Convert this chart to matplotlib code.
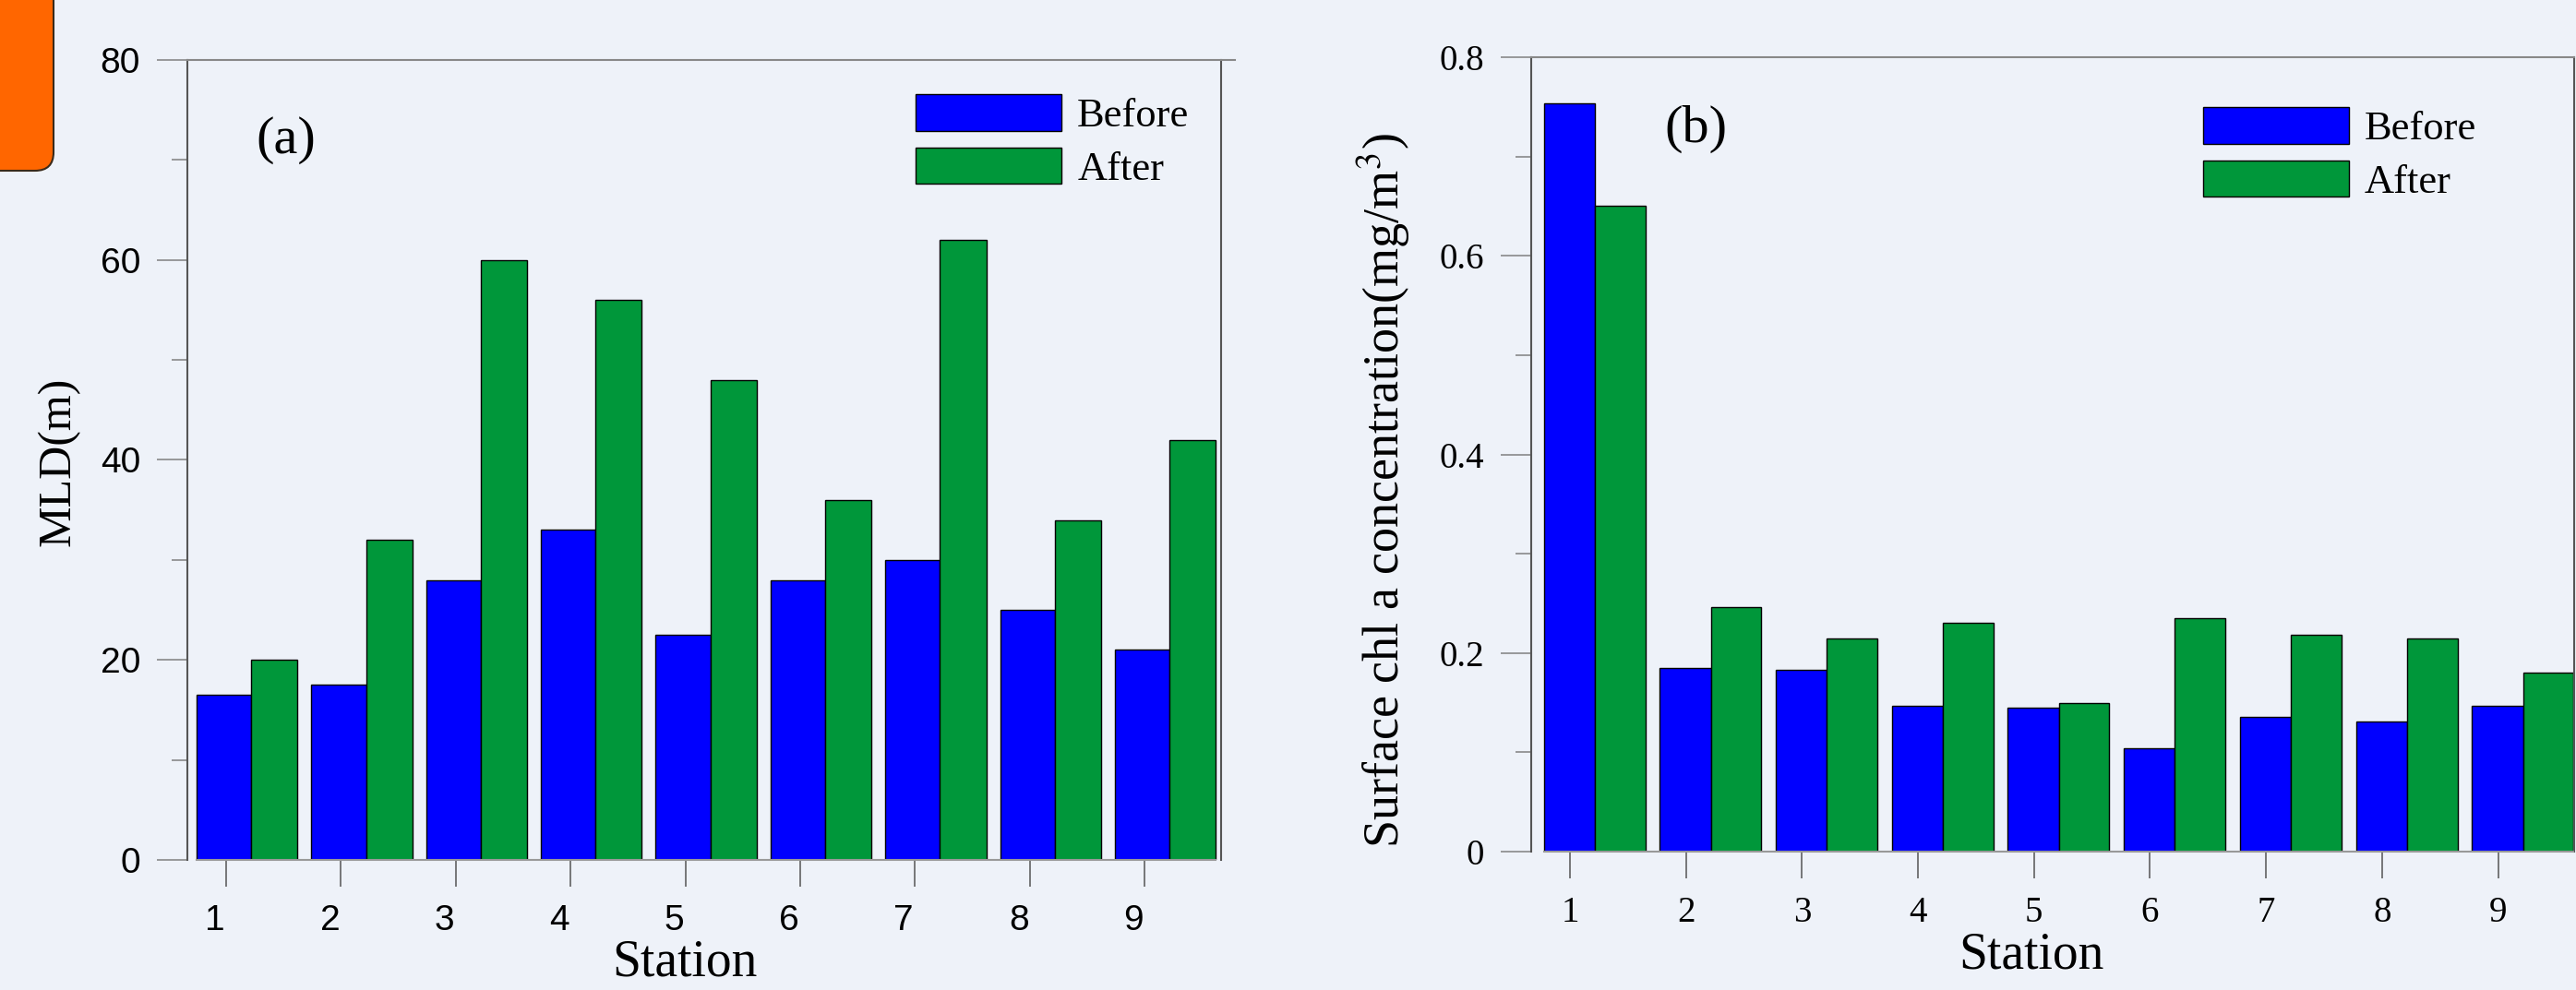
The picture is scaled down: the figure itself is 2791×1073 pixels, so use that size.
import numpy as np
import matplotlib
matplotlib.use('Agg')
import matplotlib.pyplot as plt
from matplotlib.patches import FancyBboxPatch
from matplotlib.ticker import MultipleLocator, FuncFormatter
from matplotlib.transforms import ScaledTranslation

plt.rcParams['mathtext.fontset'] = 'stix'

# data
stations = [1, 2, 3, 4, 5, 6, 7, 8, 9]
mld_before = [16.5, 17.5, 28, 33, 22.5, 28, 30, 25, 21]
mld_after = [20, 32, 60, 56, 48, 36, 62, 34, 42]
chl_before = [0.754, 0.185, 0.183, 0.147, 0.145, 0.104, 0.136, 0.131, 0.147]
chl_after = [0.650, 0.246, 0.215, 0.230, 0.150, 0.235, 0.218, 0.215, 0.180]
labels = ['Before', 'After']

bg = '#EEF2F9'
c_before = '#0000FF'
c_after = '#00973A'
serif = ['Liberation Serif', 'DejaVu Serif']
sans = ['Liberation Sans', 'DejaVu Sans']

fig = plt.figure(figsize=(27.91, 10.73), dpi=100, facecolor=bg)

# orange tab top-left
tab = FancyBboxPatch((-0.5, 8.88), 1.08, 3.0, boxstyle='round,pad=0,rounding_size=0.2',
                     transform=fig.dpi_scale_trans, facecolor='#FF6600',
                     edgecolor='#3a2a1a', lw=1.5, clip_on=False)
fig.patches.append(tab)

x = np.array(stations)


def style_axes(ax, xlim, ylim, major, minor, top_ext, base_bounds):
    ax.set_facecolor(bg)
    ax.set_xlim(*xlim)
    ax.set_ylim(*ylim)
    ax.set_xticks(stations)
    ax.yaxis.set_major_locator(MultipleLocator(major))
    ax.yaxis.set_minor_locator(MultipleLocator(minor))
    ax.tick_params(axis='y', which='major', direction='out', length=23.8, width=1.1,
                   color='#808080', pad=13, labelsize=28)
    ax.tick_params(axis='y', which='minor', direction='out', length=12.2, width=1.1,
                   color='#808080')
    ax.tick_params(axis='x', which='major', direction='out', length=21, width=1.1,
                   color='#555555', pad=13.5, labelsize=28)
    ax.tick_params(axis='x', which='minor', bottom=False)
    for s in ['left', 'right']:
        ax.spines[s].set_color('#555555')
        ax.spines[s].set_linewidth(1.5)
    ax.spines['top'].set_color('#888888')
    ax.spines['top'].set_linewidth(1.5)
    ax.spines['top'].set_bounds(xlim[0], xlim[1] + top_ext)
    ax.spines['bottom'].set_color('#999999')
    ax.spines['bottom'].set_linewidth(1.5)
    ax.spines['bottom'].set_bounds(*base_bounds)


def add_legend(ax, anchor):
    ax.legend(loc='upper left', bbox_to_anchor=anchor, frameon=False,
              prop={'family': serif, 'size': 32}, borderpad=0, borderaxespad=0,
              handlelength=3.56, handleheight=0.99, handletextpad=0.38,
              labelspacing=0.3)


# panel (a) ------------------------------------------------------------
ax1 = fig.add_axes([0.07273, 0.13141, 0.40129, 0.80801])
ax1.bar(x - 0.258, mld_before, width=0.476, align='edge', color=c_before,
        edgecolor='black', lw=1, label=labels[0])
ax1.bar(x + 0.218, mld_after, width=0.403, align='edge', color=c_after,
        edgecolor='black', lw=1, label=labels[1])
style_axes(ax1, (0.662, 9.667), (0, 80), 20, 10, 0.12, (1 - 0.258, 9 + 0.621))
for lab in ax1.get_xticklabels() + ax1.get_yticklabels():
    lab.set_family(sans)
for lab in ax1.get_xticklabels():
    lab.set_transform(lab.get_transform() + ScaledTranslation(-0.12, 0, fig.dpi_scale_trans))
ax1.set_ylabel('MLD(m)', fontsize=36, family=serif)
ax1.yaxis.set_label_coords(-0.104, 0.498)
ax1.set_xlabel('Station', fontsize=40, family=serif)
ax1.xaxis.set_label_coords(0.481, -0.099)
ax1.text(0.0955, 0.90, '(a)', transform=ax1.transAxes, fontsize=42, family=serif,
         ha='center', va='center')
add_legend(ax1, (0.7045, 0.957))

# panel (b) ------------------------------------------------------------
ax2 = fig.add_axes([0.59441, 0.13979, 0.40487, 0.80243])
ax2.bar(x - 0.225, chl_before, width=0.44, align='edge', color=c_before,
        edgecolor='black', lw=1, label=labels[0])
ax2.bar(x + 0.215, chl_after, width=0.435, align='edge', color=c_after,
        edgecolor='black', lw=1, label=labels[1])
style_axes(ax2, (0.666, 9.656), (0, 0.8), 0.2, 0.1, 0.0, (1 - 0.225, 9 + 0.65))
ax2.yaxis.set_major_formatter(FuncFormatter(lambda v, p: '%g' % round(v, 2)))
for lab in ax2.get_xticklabels() + ax2.get_yticklabels():
    lab.set_family(serif)
ax2.set_ylabel('Surface chl a concentration(mg/m$^3$)', fontsize=39, family=serif)
ax2.yaxis.set_label_coords(-0.113, 0.454)
ax2.set_xlabel('Station', fontsize=40, family=serif)
ax2.xaxis.set_label_coords(0.480, -0.101)
ax2.text(0.1575, 0.909, '(b)', transform=ax2.transAxes, fontsize=42, family=serif,
         ha='center', va='center')
add_legend(ax2, (0.644, 0.937))

fig.savefig('out.png', dpi=100, facecolor=bg)
